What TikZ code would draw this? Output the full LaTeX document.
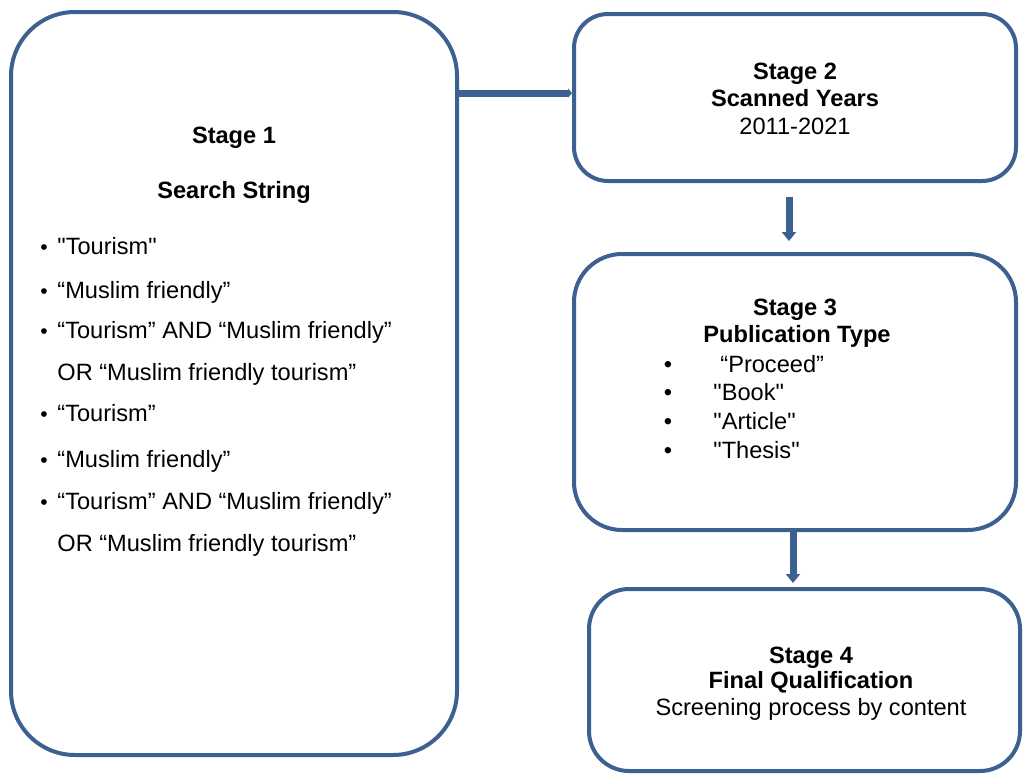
\documentclass[tikz,border=0pt]{standalone}
\usepackage{fontspec}
\setmainfont{Liberation Sans}[Ligatures=TeXOff]
\usetikzlibrary{arrows.meta,positioning,calc}
\definecolor{stageblue}{RGB}{60,97,145}

\tikzset{
  stagebox/.style={draw=stageblue, line width=2pt, rounded corners=#1, inner sep=0pt},
  txt/.style={inner sep=0pt, text height=8.5pt, text depth=0pt},
  head/.style={txt, font=\fontsize{11.8}{14}\selectfont\bfseries},
  flow/.style={draw=stageblue, line width=3.5pt, -{Triangle[width=7pt,length=4.5pt]}},
  joint/.style={draw=stageblue, line width=3.5pt, -{Triangle[width=4.5pt,length=2pt]}}
}

\begin{document}
\begin{tikzpicture}[x=0.5pt, y=-0.5pt, font=\fontsize{11.8}{14}\selectfont]
    \useasboundingbox (0,0) rectangle (1024,776);

    % boxes
    \node[stagebox=32pt, minimum width=223pt, minimum height=371.5pt] (s1) at (234,383.5) {};
    \node[stagebox=17pt, minimum width=221pt, minimum height=83.5pt] (s2) at (795,97.5) {};
    \node[stagebox=24pt, minimum width=221pt, minimum height=138pt] (s3) at (795,392) {};
    \node[stagebox=20pt, minimum width=215.5pt, minimum height=91pt] (s4) at (804.5,680) {};

    % stage 1
    \node[head] (s1a) at (234,135) {Stage 1};
    \node[head] (s1b) at (234,190) {Search String};
    \foreach \y/\t [count=\i] in {246/{"Tourism"}, 290/{“Muslim friendly”}, 330/{“Tourism” AND “Muslim friendly”},
                                  413/{“Tourism”}, 459/{“Muslim friendly”}, 501/{“Tourism” AND “Muslim friendly”}} {
        \node[txt, font=\fontsize{10.5}{12}\selectfont] (d\i) at (44,\y) {•};
        \node[txt, anchor=west] (q\i) at (57,\y) {\t};
    }
    \node[txt, anchor=west] (or1) at (57,372) {OR “Muslim friendly tourism”};
    \node[txt, anchor=west] (or2) at (57,543) {OR “Muslim friendly tourism”};

    % stage 2
    \node[head] (s2a) at (795,71) {Stage 2};
    \node[head] (s2b) at (795,98) {Scanned Years};
    \node[txt] (s2c) at (795,126) {2011-2021};

    % stage 3
    \node[head] (s3a) at (795,307) {Stage 3};
    \node[head] (s3b) at (797,334) {Publication Type};
    \foreach \y/\t/\x [count=\i] in {364/{“Proceed”}/720, 392/{"Book"}/713, 421/{"Article"}/713, 450/{"Thesis"}/713} {
        \node[txt] (e\i) at (668,\y) {•};
        \node[txt, anchor=west] (p\i) at (\x,\y) {\t};
    }

    % stage 4
    \node[head] (s4a) at (811,655) {Stage 4};
    \node[head] (s4b) at (811,680) {Final Qualification};
    \node[txt] (s4c) at (811,707) {Screening process by content};

    % connectors
    \draw[joint] ([yshift=2.2pt]s2.west -| s1.east) -- ([yshift=2.2pt]s2.west);
    \draw[flow, shorten <=7pt, shorten >=5.5pt] ([xshift=-3pt]s2.south) -- ([xshift=-3pt]s3.north);
    \draw[flow, shorten >=2pt] ([xshift=-1pt]s3.south) -- ([xshift=-1pt]s3.south |- s4.north);
\end{tikzpicture}
\end{document}
